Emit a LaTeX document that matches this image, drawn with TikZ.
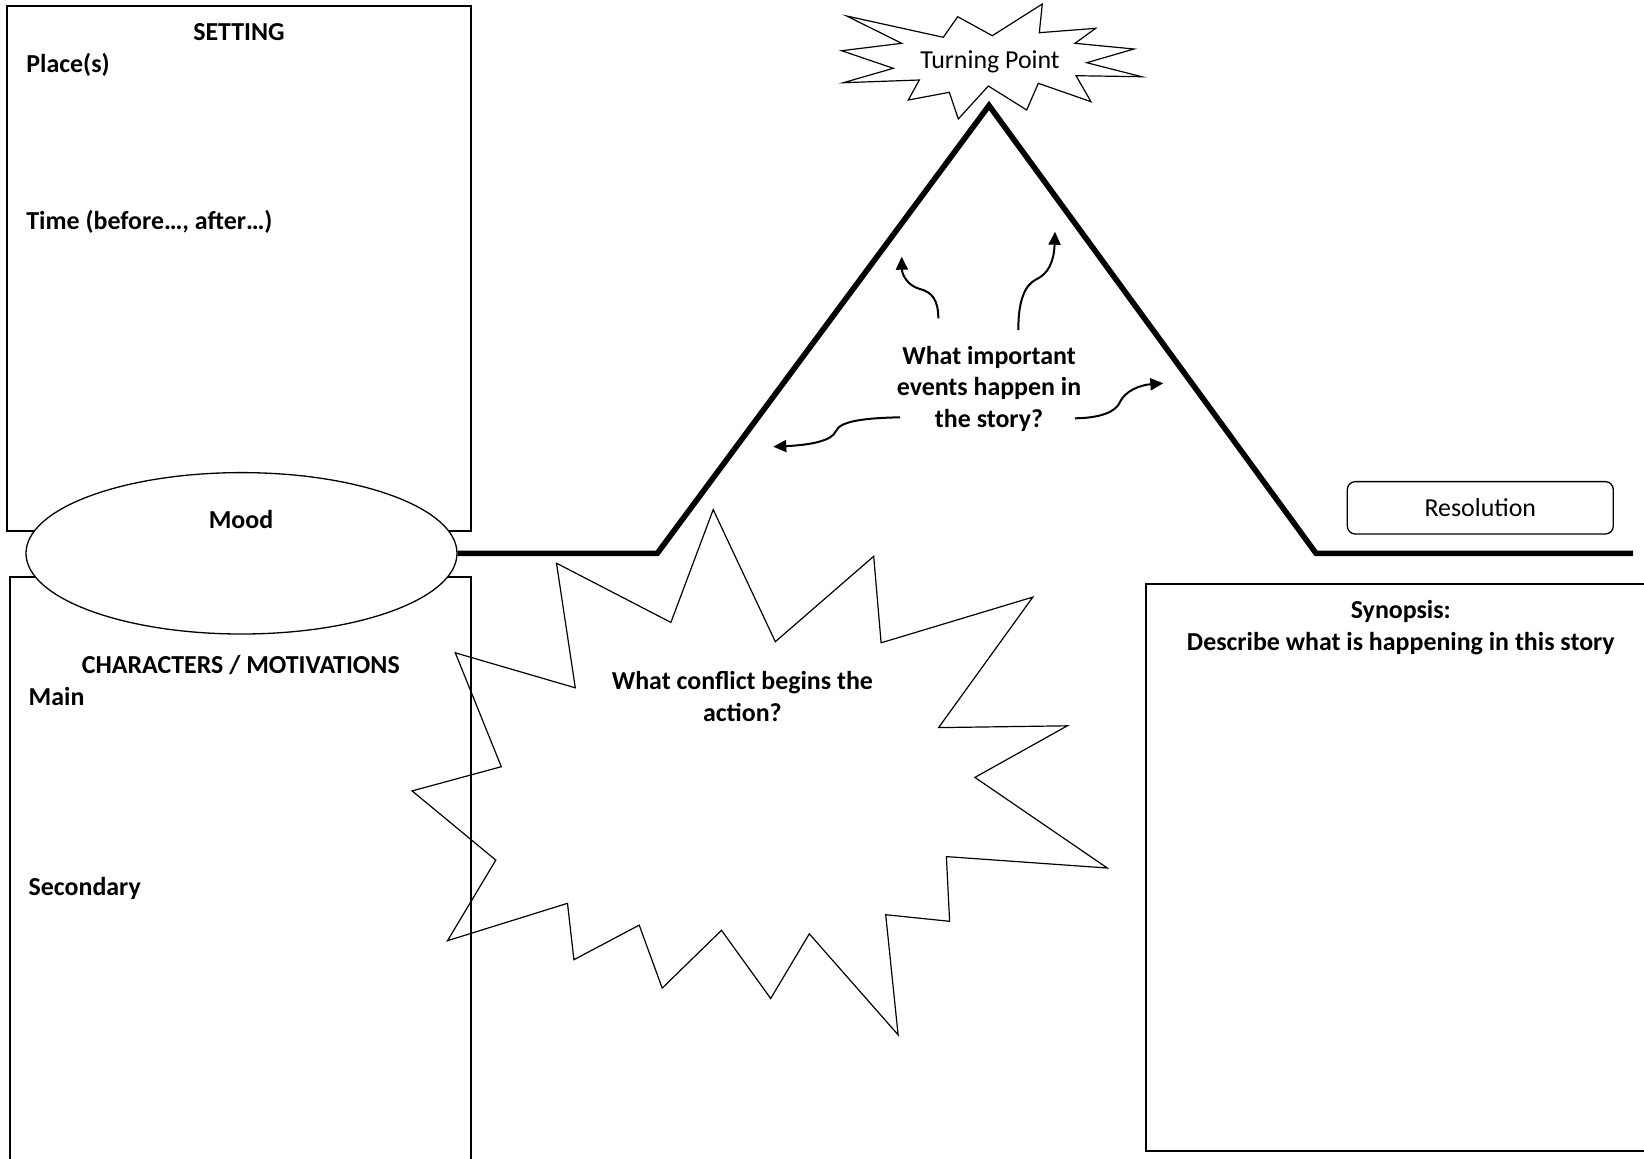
\documentclass[tikz,border=0pt]{standalone}
\usepackage{fontspec}
\setmainfont{Carlito}
\usepackage{tikz}
\usetikzlibrary{shapes.geometric,arrows.meta}

\begin{document}
\begin{tikzpicture}[x=0.5pt,y=-0.5pt,
        txt/.style={inner sep=0pt, font=\fontsize{12.95}{15.75}\selectfont},
        head/.style={inner sep=0pt, font=\fontsize{12.95}{15.75}\selectfont\bfseries},
        frame/.style={line width=0.65pt},
        burst/.style={line width=0.6pt, line join=miter},
        plotline/.style={line width=2.8pt},
        curly/.style={line width=1pt, -{Triangle[length=6.5pt,width=6pt]}}]
            \useasboundingbox (0,0) rectangle (1644,1158);

            \draw[frame] (7,6) rectangle (471,531);
            \draw[frame] (10,1162) -- (10,577) -- (471,577) -- (471,1162);
            \draw[frame] (1648,584) -- (1146,584) -- (1146,1151) -- (1648,1151);

            \node[head, anchor=base] (setting) at (239,40) {SETTING};
            \node[head, anchor=base west] (places) at (26,72) {Place(s)};
            \node[head, anchor=base west] (time) at (26,229.5) {Time (before…, after…)};

            \node[ellipse, draw, frame, fill=white, inner sep=0pt,
                minimum width=215.5pt, minimum height=80.7pt] (moodring) at (241.5,553.3) {};
            \node[head, anchor=base] (mood) at (241,528.3) {Mood};

            \node[head, anchor=base] (characters) at (240.8,673.3) {CHARACTERS / MOTIVATIONS};
            \node[head, anchor=base west] (mainrole) at (28.3,705.5) {Main};
            \node[head, anchor=base west] (secondrole) at (28.3,895.5) {Secondary};

            \coordinate (rise) at (657.3,553.3);
            \coordinate (peak) at (989,105.5);
            \coordinate (fall) at (1316,553.3);
            \coordinate (lineend) at (1633,553.3);
            \draw[plotline] (moodring.east) -- (rise) -- (peak) -- (fall) -- (lineend);

            \draw[burst] (846.7,16) -- (943.3,37.3) -- (957.7,16.7) -- (992.3,35.7)
                -- (1042.3,4) -- (1039.3,32.7) -- (1095.7,28.3) -- (1075,43.3)
                -- (1134,49) -- (1086.7,62.7) -- (1141.7,76.7) -- (1076,75.7)
                -- (1091,101.7) -- (1038.3,83.3) -- (1026.7,110) -- (988.3,86)
                -- (958.3,119) -- (949.3,92.3) -- (908.3,100) -- (919.3,80)
                -- (843.3,82.7) -- (893.3,68.3) -- (841.7,50.7) -- (901.7,43.3) -- cycle;
            \node[txt, anchor=base] (turning) at (990,68.5) {Turning Point};

            \draw[burst] (713.2,509.6) -- (775.3,641.7) -- (873.7,556.3) -- (881.1,642.8)
                -- (1032.8,597.1) -- (938.6,727.6) -- (1067.3,725.8) -- (974.9,777.4)
                -- (1107.3,868) -- (946.4,856.6) -- (949.6,921.3) -- (885.7,914.7)
                -- (898.1,1034.8) -- (809.3,933.8) -- (770.7,998.5) -- (721.5,930.3)
                -- (662.2,988.1) -- (639.2,925.1) -- (573.9,959.7) -- (567.5,903.3)
                -- (447.5,940.7) -- (495.8,860.1) -- (412.1,790.9) -- (501.3,766.7)
                -- (455.3,652.8) -- (575.3,687.8) -- (556.5,563.2) -- (670.9,622.4) -- cycle;
            \node[head, align=center] (conflict) at (742.4,696.3) {What conflict begins the\\action?};

            \node[head, align=center] (events) at (989,388.5) {What important\\events happen in\\the story?};
            \coordinate (evA) at (938.3,318.3);
            \coordinate (tipA) at (901.7,256.7);
            \coordinate (evB) at (1018.3,330);
            \coordinate (tipB) at (1055,231.7);
            \coordinate (evC) at (1075,418.3);
            \coordinate (tipC) at (1163.3,383.3);
            \coordinate (evD) at (900,417.3);
            \coordinate (tipD) at (773.3,446.7);
            \draw[curly] (evA) .. controls (938.3,300) and (932,292) .. (920,289) .. controls (908,286) and (902,275) .. (tipA);
            \draw[curly] (evB) .. controls (1018.3,300) and (1025,285) .. (1036,279.5) .. controls (1048,274) and (1054,262) .. (tipB);
            \draw[curly] (evC) .. controls (1100,418) and (1116,412) .. (1120,402) .. controls (1125,391) and (1140,385) .. (tipC);
            \draw[curly] (evD) .. controls (865,418) and (840,421) .. (836,431) .. controls (832,441) and (810,445) .. (tipD);

            \node[txt, draw, frame, rounded corners=4pt, minimum width=133pt, minimum height=26.2pt] (resolution) at (1480.3,507.8) {Resolution};

            \node[head, align=center] (synopsis) at (1400.8,627.5) {Synopsis:\\Describe what is happening in this story};
        \end{tikzpicture}
\end{document}
